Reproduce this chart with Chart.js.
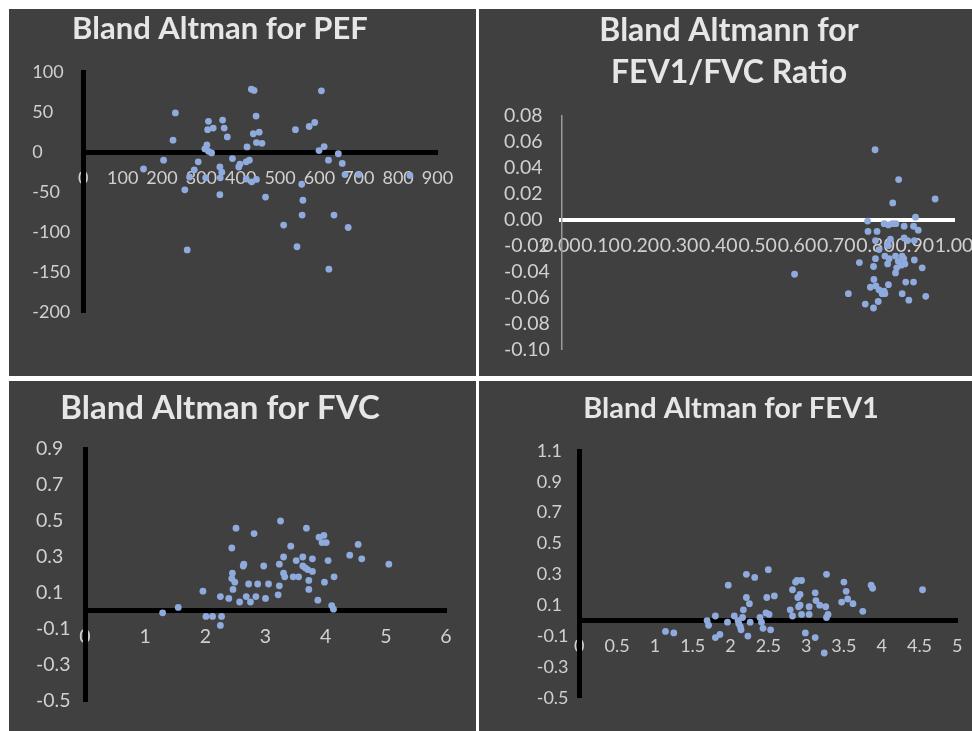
<!DOCTYPE html>
<html>
<head>
<meta charset="utf-8">
<title>Bland Altman plots</title>
<script src="https://cdn.jsdelivr.net/npm/chart.js@4.4.1/dist/chart.umd.min.js"></script>
<style>
  html, body { margin: 0; padding: 0; }
  body { width: 972px; height: 731px; background: #fff; position: relative; overflow: hidden; }
  .panel { position: absolute; background: #404040; }
  canvas { position: absolute; }
</style>
</head>
<body>
<div class="panel" style="left:9px;top:9px;width:467px;height:367px"></div>
<div class="panel" style="left:479px;top:9px;width:493px;height:367px"></div>
<div class="panel" style="left:9px;top:381px;width:467px;height:350px"></div>
<div class="panel" style="left:479px;top:381px;width:493px;height:350px"></div>
<canvas id="pef"></canvas>
<canvas id="ratio"></canvas>
<canvas id="fvc"></canvas>
<canvas id="fev1"></canvas>
<script>
// PEF: mean of the two methods vs difference
const pefMean = [153, 204, 234, 228, 258, 264, 270, 282, 292, 311, 318, 316, 330, 314, 309, 318, 326,
  354, 358, 366, 347, 352, 348, 347, 379, 398, 395, 414, 422, 416, 414, 428, 440, 427, 434, 439,
  432, 447, 440, 454, 463, 509, 539, 543, 555, 558, 556, 574, 588, 605, 599, 612, 623, 624, 637,
  648, 658, 665, 673, 700, 830];
const pefDiff = [-21, -10, 49, 15, -47, -122, -31, -22, -12, -32, 38.5, 28, 30, 9, 4, 1, -1,
  40, 30, 19, -18.5, -25, -32, -53, -8, -15, -18.5, -12, -10, 6.5, -33.5, -37, -34, 78.5, 77, 45,
  23, 25, 12, 11, -56, -91, 28, -118, -40, -60, -78.5, 32, 37, 76.5, 2, 7, -10, -146, -78.5,
  -2, -14, -28, -94, -28, -29];
const pefXTicks = [0, 100, 200, 300, 400, 500, 600, 700, 800, 900];
const pefYTicks = [-200, -150, -100, -50, 0, 50, 100];

// FEV1/FVC ratio
const ratioMean = [0.799, 0.859, 0.952, 0.844, 0.902, 0.780, 0.822, 0.833, 0.843, 0.852, 0.873,
  0.897, 0.909, 0.781, 0.804, 0.800, 0.838, 0.833, 0.873, 0.882, 0.899, 0.809, 0.830, 0.824,
  0.835, 0.851, 0.868, 0.872, 0.759, 0.800, 0.795, 0.831, 0.858, 0.875, 0.866, 0.854, 0.899,
  0.919, 0.851, 0.594, 0.731, 0.796, 0.801, 0.787, 0.809, 0.822, 0.833, 0.824, 0.817, 0.877,
  0.897, 0.868, 0.928, 0.885, 0.807, 0.774, 0.795];
const ratioDiff = [0.054, 0.031, 0.016, 0.013, 0.002, -0.001, -0.003, -0.004, -0.003, -0.003, -0.005,
  -0.005, -0.008, -0.009, -0.009, -0.016, -0.015, -0.020, -0.014, -0.016, -0.016, -0.023, -0.019, -0.028,
  -0.030, -0.028, -0.028, -0.030, -0.033, -0.030, -0.036, -0.034, -0.032, -0.034, -0.035, -0.037, -0.031,
  -0.037, -0.041, -0.042, -0.057, -0.046, -0.051, -0.052, -0.054, -0.055, -0.050, -0.057, -0.057, -0.048,
  -0.048, -0.057, -0.059, -0.062, -0.063, -0.065, -0.068];
const ratioXTicks = [0, 0.1, 0.2, 0.3, 0.4, 0.5, 0.6, 0.7, 0.8, 0.9, 1];
const ratioYTicks = [-0.1, -0.08, -0.06, -0.04, -0.02, 0, 0.02, 0.04, 0.06, 0.08];

// FVC
const fvcMean = [1.29, 1.55, 1.96, 2.01, 2.12, 2.27, 2.25, 2.25, 2.39, 2.44, 2.51, 2.45, 2.44, 2.49,
  2.46, 2.57, 2.63, 2.64, 2.68, 2.75, 2.72, 2.81, 2.84, 2.87, 2.97, 3.00, 3.05, 3.21, 3.23, 3.23,
  3.25, 3.30, 3.30, 3.32, 3.42, 3.46, 3.55, 3.51, 3.62, 3.62, 3.66, 3.70, 3.78, 3.78, 3.68, 3.72,
  3.72, 3.87, 3.89, 3.97, 3.94, 4.01, 3.98, 4.04, 4.10, 4.13, 4.14, 4.40, 4.54, 4.60, 5.05];
const fvcDiff = [-0.01, 0.02, 0.11, -0.03, -0.03, -0.03, -0.08, 0.08, 0.07, 0.35, 0.46, 0.21, 0.18, 0.16,
  0.12, 0.05, 0.25, 0.26, 0.08, 0.05, 0.15, 0.43, 0.08, 0.15, 0.25, 0.07, 0.15, 0.09, 0.14, 0.26,
  0.50, 0.30, 0.21, 0.19, 0.36, 0.19, 0.19, 0.28, 0.30, 0.25, 0.24, 0.23, 0.22, 0.29, 0.46, 0.17,
  0.12, 0.06, 0.41, 0.42, 0.38, 0.38, 0.16, 0.28, 0.03, 0.01, 0.19, 0.31, 0.37, 0.29, 0.26];
const fvcXTicks = [0, 1, 2, 3, 4, 5, 6];
const fvcYTicks = [-0.5, -0.3, -0.1, 0.1, 0.3, 0.5, 0.7, 0.9];

// FEV1
const fev1Mean = [1.14, 1.25, 1.69, 1.71, 1.80, 1.80, 1.86, 1.97, 1.96, 2.05, 2.11, 2.13, 2.14, 2.10,
  2.16, 2.21, 2.17, 2.21, 2.25, 2.26, 2.23, 2.32, 2.39, 2.41, 2.43, 2.50, 2.48, 2.47, 2.51, 2.53,
  2.58, 2.79, 2.82, 2.82, 2.86, 2.89, 2.92, 2.94, 2.88, 2.90, 2.92, 2.94, 2.99, 3.04, 3.04, 3.12,
  3.13, 3.18, 3.12, 3.27, 3.26, 3.29, 3.27, 3.24, 3.50, 3.53, 3.55, 3.47, 3.62, 3.75, 3.86, 3.88, 4.54];
const fev1Diff = [-0.07, -0.08, 0.00, -0.03, 0.03, -0.11, -0.09, 0.23, -0.01, 0.03, -0.02, -0.04, -0.06, 0.00,
  0.02, 0.30, 0.07, 0.15, 0.11, -0.01, -0.10, 0.28, 0.02, -0.01, -0.05, 0.33, 0.15, 0.05, 0.04, -0.06,
  0.16, 0.07, 0.03, 0.20, 0.25, 0.15, 0.17, 0.26, 0.26, 0.09, 0.10, 0.04, -0.08, 0.09, 0.04, 0.18,
  0.13, 0.10, -0.11, 0.30, 0.09, 0.04, 0.02, -0.21, 0.25, 0.19, 0.14, 0.12, 0.11, 0.06, 0.23, 0.21, 0.20];
const fev1XTicks = [0, 0.5, 1, 1.5, 2, 2.5, 3, 3.5, 4, 4.5, 5];
const fev1YTicks = [-0.5, -0.3, -0.1, 0.1, 0.3, 0.5, 0.7, 0.9, 1.1];

function toPoints(xs, ys) {
  return xs.map((x, i) => ({ x: x, y: ys[i] }));
}

function drawPanel(id, opt) {
  const canvas = document.getElementById(id);
  const lineH = opt.titleSize * opt.titleLineHeight;
  const lines = Array.isArray(opt.title) ? opt.title.length : 1;
  const labelFont = { family: 'Lato', size: opt.labelSize };
  // title is centred on the padded box, so the left edge follows from the title centre
  const padLeftAbs = 2 * opt.titleX - opt.area.r;
  const left = Math.floor(padLeftAbs);
  const width = Math.ceil(opt.area.r + 40 - left);
  canvas.width = width;
  canvas.height = opt.bottom - opt.top;
  canvas.style.left = left + 'px';
  canvas.style.top = opt.top + 'px';

  const titleTop = opt.titleMid - opt.top - lineH / 2;
  const titleBottom = opt.area.t - opt.top - titleTop - lines * lineH;
  const gap = Math.max(0, opt.labelLeft - padLeftAbs);
  const yWidth = opt.area.l - padLeftAbs - gap;

  new Chart(canvas, {
    type: 'scatter',
    data: {
      datasets: [{
        data: toPoints(opt.xs, opt.ys),
        xAxisID: 'x',
        yAxisID: 'y',
        backgroundColor: '#8faadc',
        borderWidth: 0,
        pointRadius: 3.4,
        pointHoverRadius: 3.4,
      }],
    },
    options: {
      responsive: false,
      animation: false,
      events: [],
      layout: {
        padding: { left: padLeftAbs - left, right: left + width - opt.area.r, top: 0, bottom: opt.bottom - opt.area.b },
      },
      plugins: {
        legend: { display: false },
        tooltip: { enabled: false },
        title: {
          display: true,
          text: opt.title,
          color: '#e6e6e6',
          font: { family: 'Lato', size: opt.titleSize, weight: 'bold', lineHeight: opt.titleLineHeight },
          padding: { top: titleTop, bottom: titleBottom },
        },
      },
      scales: {
        x: {
          type: 'linear',
          position: { y: 0 },
          min: opt.xTicks[0],
          max: opt.xTicks[opt.xTicks.length - 1],
          afterBuildTicks: (s) => { s.ticks = opt.xTicks.map((v) => ({ value: v })); },
          grid: { display: false, drawTicks: false, tickLength: 0 },
          border: { color: opt.xLine, width: opt.xLineWidth },
          ticks: {
            color: '#d0d0d0', font: labelFont, padding: 26 - 0.6 * opt.labelSize,
            autoSkip: false, maxRotation: 0, minRotation: 0,
            callback: opt.xFormat,
          },
        },
        y: {
          type: 'linear',
          position: 'left',
          min: opt.yTicks[0],
          max: opt.yTicks[opt.yTicks.length - 1],
          afterBuildTicks: (s) => { s.ticks = opt.yTicks.map((v) => ({ value: v })); },
          afterFit: (s) => { s.width = yWidth; },
          grid: { display: false, drawTicks: false, tickLength: 0 },
          border: { color: opt.yLine, width: opt.yLineWidth, z: 1 },
          ticks: {
            color: '#d0d0d0', font: labelFont, crossAlign: 'far',
            autoSkip: false, callback: opt.yFormat,
          },
        },
        // empty spacer on the far left so the tick labels start where the reference has them
        gap: {
          type: 'linear',
          position: 'left',
          weight: 10,
          grid: { display: false },
          border: { display: false },
          ticks: { display: false },
          afterFit: (s) => { s.width = gap; },
        },
      },
    },
  });
}

drawPanel('pef', {
  title: 'Bland Altman for PEF', titleSize: 31, titleLineHeight: 1.2, labelSize: 18,
  xs: pefMean, ys: pefDiff, xTicks: pefXTicks, yTicks: pefYTicks,
  xFormat: (v) => String(v), yFormat: (v) => String(v),
  xLine: '#000', xLineWidth: 5, yLine: '#000', yLineWidth: 5,
  top: 9, bottom: 376, area: { l: 83.3, r: 437.5, t: 72, b: 312.5 },
  titleX: 220, titleMid: 29, labelLeft: 32.3,
});

drawPanel('ratio', {
  title: ['Bland Altmann for', 'FEV1/FVC Ratio'], titleSize: 32, titleLineHeight: 1.3125, labelSize: 19.5,
  xs: ratioMean, ys: ratioDiff, xTicks: ratioXTicks, yTicks: ratioYTicks,
  xFormat: (v) => v.toFixed(2), yFormat: (v) => v.toFixed(2),
  xLine: '#ffffff', xLineWidth: 4, yLine: '#9a9a9a', yLineWidth: 1.5,
  top: 9, bottom: 376, area: { l: 561.3, r: 954, t: 116, b: 349.5 },
  titleX: 729, titleMid: 30.3, labelLeft: 503,
});

drawPanel('fvc', {
  title: 'Bland Altman for FVC', titleSize: 33, titleLineHeight: 1.2, labelSize: 19.5,
  xs: fvcMean, ys: fvcDiff, xTicks: fvcXTicks, yTicks: fvcYTicks,
  xFormat: (v) => String(v), yFormat: (v) => v.toFixed(1),
  xLine: '#000', xLineWidth: 5, yLine: '#000', yLineWidth: 5,
  top: 381, bottom: 731, area: { l: 85, r: 446, t: 449, b: 701 },
  titleX: 220, titleMid: 408.3, labelLeft: 36,
});

drawPanel('fev1', {
  title: 'Bland Altman for FEV1', titleSize: 29, titleLineHeight: 1.2, labelSize: 18,
  xs: fev1Mean, ys: fev1Diff, xTicks: fev1XTicks, yTicks: fev1YTicks,
  xFormat: (v) => String(v), yFormat: (v) => v.toFixed(1),
  xLine: '#000', xLineWidth: 5, yLine: '#000', yLineWidth: 5,
  top: 381, bottom: 731, area: { l: 579.3, r: 957.3, t: 451, b: 697.7 },
  titleX: 731, titleMid: 408.5, labelLeft: 536.7,
});
</script>
</body>
</html>
